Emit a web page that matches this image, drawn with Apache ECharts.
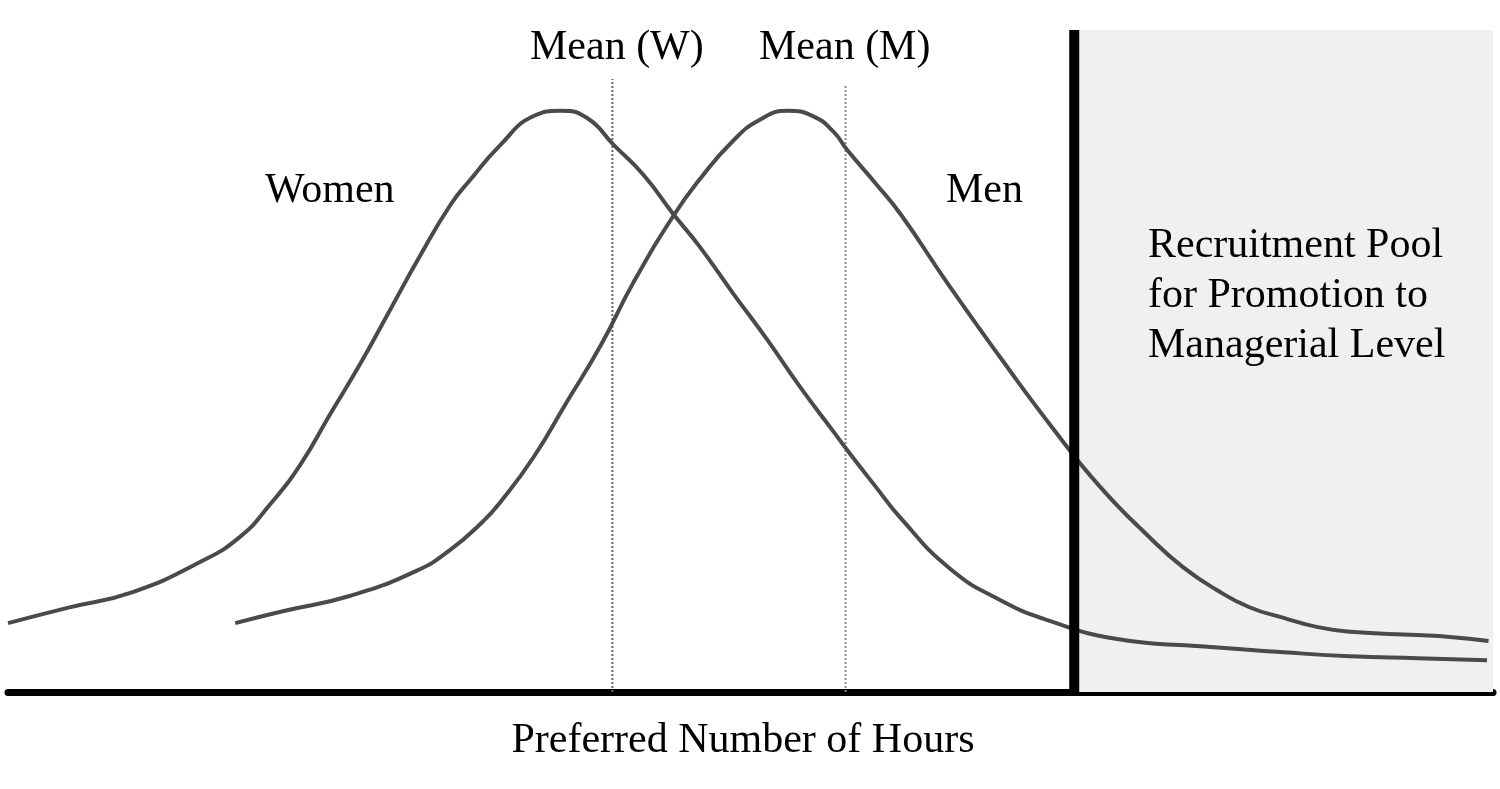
<!DOCTYPE html>
<html>
<head>
<meta charset="utf-8">
<script src="https://cdn.jsdelivr.net/npm/echarts@6/dist/echarts.min.js"></script>
<style>html,body{margin:0;padding:0;background:#fff}#c{width:1500px;height:789px}</style>
</head>
<body>
<div id="c"></div>
<script>
// Distribution of preferred number of hours (arbitrary units, 0-100)
const womenX = [0, 4.0, 8.4, 12.9, 15.6, 17.6, 19.7, 21.7, 23.7, 25.7, 27.7, 29.8, 31.1, 33.1, 35.4, 37.2, 39.0, 40.8, 42.8, 44.8, 46.6, 48.8, 51.1, 53.3, 55.6, 56.7, 58.4, 60.1, 63.4, 66.8, 70.2, 74.7, 80.3, 85.9, 90.4, 94.9, 99.6];
const womenY = [10.4, 12.7, 15.1, 19.6, 23.4, 28.2, 34.4, 42.0, 49.5, 57.6, 65.7, 73.6, 77.3, 82.5, 87.0, 87.8, 86.7, 82.6, 78.1, 72.2, 67.2, 60.3, 53.3, 46.2, 39.3, 36.0, 31.1, 26.3, 18.7, 13.9, 10.7, 8.0, 6.9, 6.0, 5.4, 5.1, 4.8];
const menX = [15.3, 18.5, 23.0, 27.5, 29.8, 32.0, 33.1, 35.4, 37.6, 39.9, 42.1, 44.8, 46.6, 48.8, 50.6, 52.5, 54.2, 55.6, 56.5, 58.4, 60.1, 63.4, 66.8, 70.2, 73.5, 76.9, 79.1, 81.4, 83.6, 85.9, 88.2, 90.4, 94.9, 97.1, 99.7];
const menY = [10.4, 12.2, 14.5, 18.3, 21.5, 25.8, 28.5, 35.5, 43.7, 52.3, 61.8, 71.9, 77.5, 83.2, 86.4, 87.8, 87.0, 84.6, 81.9, 76.9, 72.2, 61.3, 50.6, 40.3, 31.1, 23.3, 18.9, 15.4, 12.8, 11.2, 9.8, 9.1, 8.6, 8.3, 7.7];
const meanWomen = 40.7, meanWomenTop = 92.6;
const meanMen = 56.4, meanMenTop = 91.7;
const cutoff = 71.8, cutoffTop = 100;
const labels = {
  meanW: 'Mean (W)', meanM: 'Mean (M)', women: 'Women', men: 'Men',
  pool: ['Recruitment Pool', 'for Promotion to', 'Managerial Level'],
  xName: 'Preferred Number of Hours'
};

const zip = (xs, ys) => xs.map((x, i) => [x, ys[i]]);
const FONT = '"Liberation Serif", "Times New Roman", serif';
const txt = (text, x, y, align) => ({
  type: 'text', x: x, y: y, z: 100,
  style: { text: text, font: '42px ' + FONT, fill: '#000', textAlign: align || 'left', textVerticalAlign: 'middle' }
});

const chart = echarts.init(document.getElementById('c'));
chart.setOption({
  animation: false,
  backgroundColor: '#fff',
  grid: { left: 8, right: 7, top: 30, bottom: 97 },
  xAxis: {
    type: 'value', min: 0, max: 100,
    axisLine: { show: true, onZero: false, lineStyle: { color: '#000', width: 7 } },
    axisTick: { show: false }, axisLabel: { show: false }, splitLine: { show: false }
  },
  yAxis: {
    type: 'value', min: 0, max: 100,
    axisLine: { show: false }, axisTick: { show: false }, axisLabel: { show: false }, splitLine: { show: false }
  },
  series: [
    {
      type: 'line', name: 'cutoff', data: [[cutoff, 0], [cutoff, cutoffTop]],
      symbol: 'none', z: 5, lineStyle: { color: '#000', width: 10 },
      markArea: {
        silent: true, itemStyle: { color: '#f0f0f0' },
        data: [[{ coord: [cutoff, 0] }, { coord: [100, cutoffTop] }]]
      }
    },
    {
      type: 'line', name: 'meanW', data: [[meanWomen, 0], [meanWomen, meanWomenTop]],
      symbol: 'none', z: 2, lineStyle: { color: '#666', width: 2, type: [2, 2] }
    },
    {
      type: 'line', name: 'meanM', data: [[meanMen, 0], [meanMen, meanMenTop]],
      symbol: 'none', z: 2, lineStyle: { color: '#8a8a8a', width: 2, type: [2, 2] }
    },
    {
      type: 'line', name: 'Women', data: zip(womenX, womenY), smooth: 0.5,
      symbol: 'none', z: 3, lineStyle: { color: '#4a4a4a', width: 4 }
    },
    {
      type: 'line', name: 'Men', data: zip(menX, menY), smooth: 0.5,
      symbol: 'none', z: 3, lineStyle: { color: '#4a4a4a', width: 4 }
    }
  ],
  graphic: [
    txt(labels.meanW, 530, 48),
    txt(labels.meanM, 759, 48),
    txt(labels.women, 265, 191),
    txt(labels.men, 946, 191),
    txt(labels.pool[0], 1148, 246),
    txt(labels.pool[1], 1148, 296),
    txt(labels.pool[2], 1148, 346),
    txt(labels.xName, 743, 741, 'center')
  ]
});
</script>
</body>
</html>
